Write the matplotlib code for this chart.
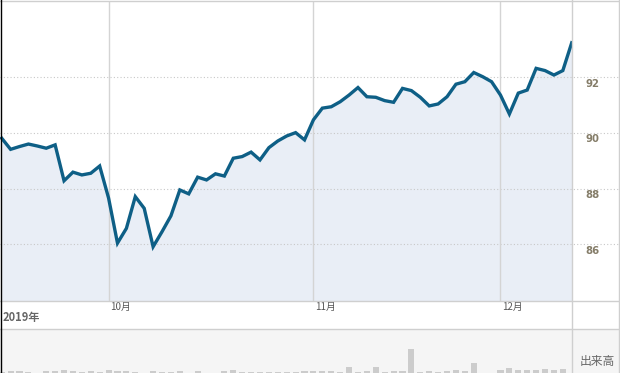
import matplotlib
matplotlib.use('Agg')
import matplotlib.pyplot as plt
import matplotlib.transforms as mtransforms
from matplotlib.lines import Line2D
from matplotlib.patches import Rectangle
import numpy as np
import pandas as pd

plt.rcParams['font.family'] = ['Noto Sans CJK JP', 'DejaVu Sans']

# daily values, 2019-09-13 .. 2019-12-12 (weekdays)
dates = pd.bdate_range('2019-09-13', periods=65)
price = [89.81, 89.41, 89.51, 89.60, 89.53, 89.45, 89.57, 88.28, 88.59, 88.49,
         88.55, 88.81, 87.66, 86.04, 86.57, 87.71, 87.29, 85.91, 86.45, 87.02,
         87.95, 87.81, 88.41, 88.31, 88.53, 88.45, 89.09, 89.15, 89.31, 89.03,
         89.47, 89.71, 89.89, 90.01, 89.75, 90.47, 90.89, 90.94, 91.12, 91.36,
         91.63, 91.30, 91.28, 91.16, 91.10, 91.60, 91.52, 91.28, 90.97, 91.04,
         91.30, 91.75, 91.84, 92.17, 92.02, 91.84, 91.36, 90.68, 91.43, 91.54,
         92.32, 92.24, 92.08, 92.24, 93.24]
volume = [15, 20, 20, 15, 0, 20, 20, 30, 20, 15,
          20, 15, 30, 20, 20, 15, 0, 20, 15, 15,
          25, 0, 20, 0, 0, 20, 30, 15, 15, 15,
          15, 15, 15, 13, 20, 20, 20, 20, 13, 60,
          13, 20, 60, 13, 20, 20, 240, 13, 20, 13,
          20, 30, 20, 100, 0, 0, 30, 50, 30, 30,
          30, 40, 30, 40, 0]
price_ticks = [86, 88, 90, 92]
year_label = '2019年'
volume_label = '出来高'

W, H = 620, 373
fig = plt.figure(figsize=(W / 100, H / 100), dpi=100)
fig.patch.set_facecolor('white')

def fx(x):
    return x / W

def fy(y):
    # pixel row from top -> figure fraction
    return 1 - y / H

x = np.arange(len(price))
plot_right = 572
price_bottom = 301
vol_top = 329

# volume row background (incl. right column)
fig.add_artist(Rectangle((0, 0), 1, fy(vol_top), transform=fig.transFigure,
                         facecolor='#f5f5f5', edgecolor='none', zorder=0))

ax = fig.add_axes([0, fy(price_bottom), fx(plot_right), fy(1) - fy(price_bottom)])
axv = fig.add_axes([0, 0, fx(plot_right), fy(vol_top)])

# price panel
ymin, ymax = 83.96, 94.74
ax.set_ylim(ymin, ymax)
ax.set_xlim(-0.19, len(price) - 1 + 0.03)
ax.fill_between(x, price, ymin, color='#e9eef6', lw=0, zorder=1)
ax.plot(x, price, color='#0e5f86', lw=2.4, solid_joinstyle='miter', zorder=3)

for t in price_ticks:
    ax.axhline(t, xmin=0, xmax=(W - 1.5) / plot_right, color='#c8c8c8', lw=0.8,
               ls=(0, (1, 2)), clip_on=False, zorder=2)
    trans = mtransforms.offset_copy(ax.get_yaxis_transform(), fig=fig, x=0, y=-6.5, units='dots')
    ax.text(592 / plot_right, t, str(t), transform=trans, ha='center', va='center',
            fontsize=7.3, fontweight='bold', color='#857d69', family='DejaVu Sans')

# month starts
month_idx = [i for i in range(1, len(dates)) if dates[i].month != dates[i - 1].month]
for i in month_idx:
    ax.axvline(i, color='#d4d4d4', lw=1, zorder=2)
    trans = mtransforms.offset_copy(ax.get_xaxis_transform(), fig=fig, x=2, y=0, units='dots')
    ax.text(i, -0.02, f'{dates[i].month}月', transform=trans, ha='left', va='center',
            fontsize=7, color='#555555')

ax.set_xticks([])
ax.set_yticks([])
for s in ax.spines.values():
    s.set_visible(False)
ax.patch.set_alpha(0)

ax.text(3 / plot_right, -(318 - price_bottom) / (price_bottom - 1), year_label,
        transform=ax.transAxes, ha='left', va='center', fontsize=8,
        fontweight='bold', color='#666666')

# volume panel
axv.bar(x, volume, width=0.68, color='#cccccc', zorder=2)
axv.set_xlim(ax.get_xlim())
axv.set_ylim(0, 440)
axv.set_xticks([])
axv.set_yticks([])
for s in axv.spines.values():
    s.set_visible(False)
axv.patch.set_alpha(0)
fig.text(fx(597), fy(361), volume_label, ha='center', va='center', fontsize=8.5, color='#666666')

# frame lines
line_c = '#cfcfcf'
for yy in [0.5, price_bottom, vol_top]:
    fig.add_artist(Line2D([0, 1], [fy(yy), fy(yy)], transform=fig.transFigure, color=line_c, lw=1))
fig.add_artist(Line2D([fx(plot_right), fx(plot_right)], [0, 1], transform=fig.transFigure, color=line_c, lw=1))
fig.add_artist(Line2D([fx(W - 1.5), fx(W - 1.5)], [0, 1], transform=fig.transFigure, color=line_c, lw=1))
fig.add_artist(Line2D([fx(0.5), fx(0.5)], [0, 1], transform=fig.transFigure, color='black', lw=1))

fig.savefig('out.png', dpi=100)
